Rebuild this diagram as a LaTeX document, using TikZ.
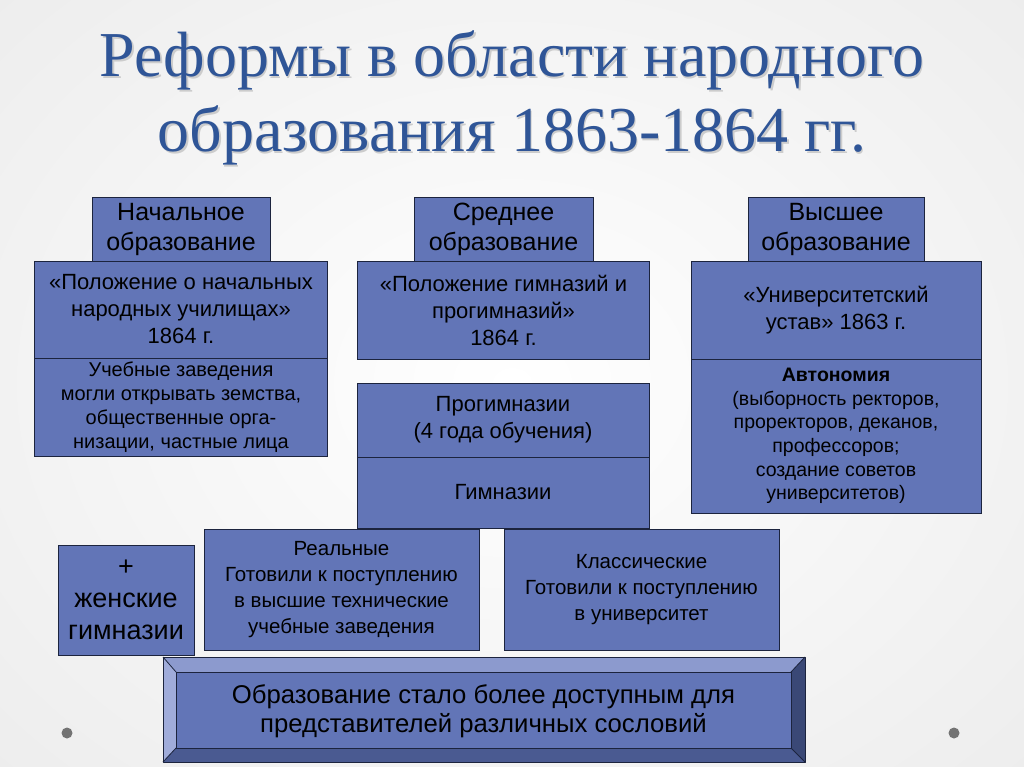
\documentclass[tikz,border=0pt]{standalone}
\usepackage{fontspec}
\setmainfont{Liberation Sans}
\newfontfamily\titlefont{Liberation Serif}
\usetikzlibrary{positioning}
\definecolor{boxblue}{RGB}{98,117,183}
\definecolor{boxline}{RGB}{28,36,62}
\definecolor{titleblue}{RGB}{47,85,151}
\definecolor{bevtop}{RGB}{140,154,206}
\definecolor{bevleft}{RGB}{160,172,218}
\definecolor{bevright}{RGB}{58,72,118}
\definecolor{bevbottom}{RGB}{74,90,145}
\newcommand{\fsz}[2]{\fontsize{#1}{#2}\selectfont}

\begin{document}
\begin{tikzpicture} [
        x=1pt, y=-1pt,
        box/.style={draw=boxline, fill=boxblue, rectangle, line width=0.8pt,
                    inner sep=0pt, outer sep=0pt, align=center, font=\fsz{22}{27}},
        head/.style={box, minimum height=64pt, font=\fsz{25}{30}},
        bevel/.style={draw=boxline, line width=0.8pt, line join=round},
        node distance=0pt ]
    \useasboundingbox (0,0) rectangle (1024,767);
    % background
    \begin{scope}
        \clip (0,0) rectangle (1024,767);
        \fill[black!11] (0,0) rectangle (1024,767);
        \shade[inner color=white, outer color=black!11] (-600,-500) rectangle (1624,1267);
    \end{scope}
    \fill[black!55] (67,733) circle (5.5);
    \fill[black!55] (954,733) circle (5.5);

    % title
    \node[font=\titlefont\fsz{64}{75}, text=black!20, align=center] (titleshadow) at (513.5,99.5)
        {Реформы в области народного\\образования 1863-1864 гг.};
    \node[font=\titlefont\fsz{64}{75}, text=titleblue, align=center] (title) at (512,98)
        {Реформы в области народного\\образования 1863-1864 гг.};

    % primary
    \node[head, minimum width=178pt] (hprim) at (181,229) {Начальное\\образование};
    \node[box, minimum width=293pt, minimum height=97pt, below=of hprim] (polprim)
        {«Положение о начальных\\народных училищах»\\1864 г.};
    \node[box, minimum width=293pt, minimum height=98pt, below=of polprim, font=\fsz{20}{24}] (primwho)
        {Учебные заведения\\могли открывать земства,\\общественные орга-\\низации, частные лица};

    % secondary
    \node[head, minimum width=179pt] (hsec) at (503.5,229) {Среднее\\образование};
    \node[box, minimum width=292pt, minimum height=98pt, below=of hsec] (polsec)
        {«Положение гимназий и\\прогимназий»\\1864 г.};
    \node[box, minimum width=292pt, minimum height=74pt] (progym) at (503,420)
        {Прогимназии\\(4 года обучения)};
    \node[box, minimum width=292pt, minimum height=71pt, below=of progym] (gym) {Гимназии};

    % higher
    \node[head, minimum width=176pt] (hhigh) at (836,229) {Высшее\\образование};
    \node[box, minimum width=290pt, minimum height=98pt, below=of hhigh] (ustav)
        {«Университетский\\устав» 1863 г.};
    \node[box, minimum width=290pt, minimum height=154pt, below=of ustav, font=\fsz{19.5}{23.7}] (autonomy)
        {\textbf{Автономия}\\(выборность ректоров,\\проректоров, деканов,\\профессоров;\\создание советов\\университетов)};

    % bottom row
    \node[box, minimum width=136pt, minimum height=110pt, font=\fsz{27}{32}] (female) at (126,600)
        {+\\женские\\гимназии};
    \node[box, minimum width=275pt, minimum height=121pt, font=\fsz{20.5}{26}] (real) at (341.5,589.5)
        {Реальные\\Готовили к поступлению\\в высшие технические\\учебные заведения};
    \node[box, minimum width=275pt, minimum height=121pt, font=\fsz{20.5}{26}] (classic) at (641.5,589.5)
        {Классические\\Готовили к поступлению\\в университет};

    % result
    \fill[bevtop]    (163,657) -- (805,657) -- (791,672) -- (176,672) -- cycle;
    \fill[bevleft]   (163,657) -- (176,672) -- (176,748) -- (163,762) -- cycle;
    \fill[bevright]  (805,657) -- (805,762) -- (791,748) -- (791,672) -- cycle;
    \fill[bevbottom] (163,762) -- (805,762) -- (791,748) -- (176,748) -- cycle;
    \fill[boxblue]   (176,672) rectangle (791,748);
    \draw[bevel] (163,657) rectangle (805,762);
    \draw[bevel] (176,672) rectangle (791,748);
    \draw[bevel] (163,657) -- (176,672) (805,657) -- (791,672)
                 (163,762) -- (176,748) (805,762) -- (791,748);
    \node[font=\fsz{25.7}{29}, align=center] (result) at (483.5,711)
        {Образование стало более доступным для\\представителей различных сословий};
\end{tikzpicture}
\end{document}
